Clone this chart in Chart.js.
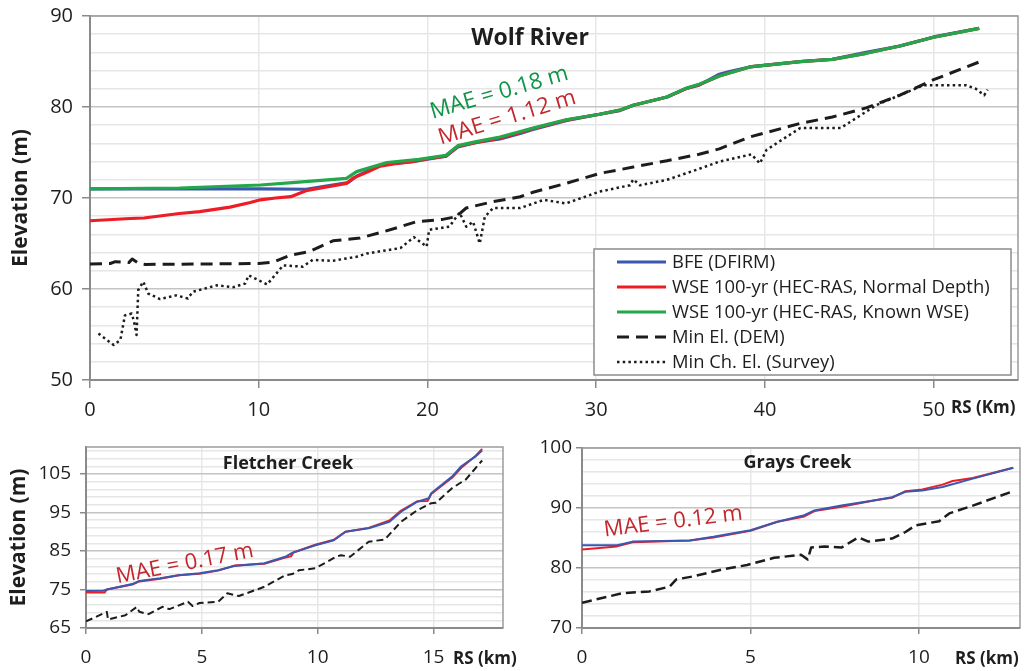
<!DOCTYPE html>
<html><head><meta charset="utf-8">
<script src="https://cdn.jsdelivr.net/npm/chart.js@4.4.1/dist/chart.umd.min.js"></script>
<style>
html,body{margin:0;padding:0;background:#fff;width:1026px;height:671px;overflow:hidden;}
canvas{position:absolute;}
#c1{left:0;top:0;} #c2{left:0;top:440px;} #c3{left:520px;top:420px;}
</style></head><body>
<canvas id="c1" width="1026" height="440"></canvas>
<canvas id="c2" width="540" height="231"></canvas>
<canvas id="c3" width="506" height="251"></canvas>
<script>
// ---------- Wolf River ----------
const wolfBfeKm = [0, 5, 10, 12.8, 14.0, 15.3, 15.8, 16.5, 17.2, 18.0, 19.1, 20.1, 21.1, 21.8, 22.9, 24.3, 25.5, 26.2, 28.2, 30.2, 31.4, 32.2, 34.2, 35.3, 36.1, 37.3, 37.9, 39.1, 42.1, 44.0, 46.0, 48.0, 50.0, 52.7];
const wolfBfeEl = [71.0, 71.0, 71.0, 70.96, 71.3, 71.7, 72.4, 73.0, 73.6, 73.8, 74.0, 74.3, 74.6, 75.6, 76.1, 76.5, 77.1, 77.5, 78.5, 79.2, 79.6, 80.2, 81.1, 82.0, 82.4, 83.6, 83.9, 84.4, 85.0, 85.25, 86.0, 86.7, 87.7, 88.65];
const wolfNdKm = [0, 2.4, 3.2, 5.3, 6.5, 8.3, 9.5, 10.1, 11.0, 11.9, 12.8, 15.2, 15.6, 16.5, 17.2, 18.0, 19.1, 20.1, 21.1, 21.8, 22.9, 24.3, 25.5, 26.2, 28.2, 30.2, 31.4, 32.2, 34.2, 35.3, 36.1, 37.3, 39.1, 42.1, 44.0, 46.0, 48.0, 50.0, 52.7];
const wolfNdEl = [67.5, 67.75, 67.8, 68.3, 68.5, 69.0, 69.5, 69.8, 70.0, 70.15, 70.8, 71.6, 72.2, 72.9, 73.5, 73.75, 74.0, 74.35, 74.6, 75.7, 76.1, 76.6, 77.2, 77.6, 78.55, 79.2, 79.65, 80.2, 81.1, 82.0, 82.45, 83.4, 84.4, 84.98, 85.24, 85.9, 86.7, 87.66, 88.64];
const wolfKwKm = [0, 5.3, 10.1, 12.0, 15.2, 15.8, 17.6, 19.5, 20.3, 21.1, 21.8, 22.9, 24.3, 25.5, 26.2, 28.2, 30.2, 31.4, 32.2, 34.2, 35.3, 36.1, 37.3, 39.1, 42.1, 44.0, 46.0, 48.0, 50.0, 52.7];
const wolfKwEl = [71.0, 71.1, 71.43, 71.7, 72.16, 72.9, 73.9, 74.25, 74.47, 74.7, 75.75, 76.2, 76.7, 77.3, 77.65, 78.6, 79.2, 79.67, 80.2, 81.1, 82.05, 82.5, 83.4, 84.4, 84.98, 85.24, 85.9, 86.7, 87.66, 88.64];
const wolfDemKm = [0, 1.2, 1.5, 2.3, 2.5, 2.9, 3.3, 10.0, 10.85, 11.85, 13.0, 14.4, 16.0, 17.4, 18.4, 19.35, 20.9, 21.7, 22.3, 23.9, 25.5, 26.2, 28.2, 30.2, 32.2, 34.2, 36.1, 37.3, 39.1, 42.1, 44.0, 46.0, 48.0, 50.0, 52.7];
const wolfDemEl = [62.75, 62.8, 63.0, 62.9, 63.3, 62.8, 62.7, 62.8, 62.95, 63.7, 64.1, 65.3, 65.6, 66.3, 66.85, 67.4, 67.65, 67.95, 68.9, 69.6, 70.14, 70.6, 71.6, 72.7, 73.4, 74.1, 74.8, 75.4, 76.7, 78.2, 78.9, 79.9, 81.3, 83.0, 84.95];
const wolfSurvKm = [0.5, 1.0, 1.4, 1.8, 2.07, 2.47, 2.6, 2.76, 2.86, 3.16, 3.45, 4.15, 5.1, 5.8, 6.1, 7.5, 8.5, 9.2, 9.4, 10.5, 11.45, 12.6, 13.2, 14.4, 15.8, 16.4, 18.4, 19.2, 19.95, 20.1, 21.3, 21.9, 22.3, 22.7, 23.1, 23.4, 23.9, 25.5, 26.9, 28.2, 30.2, 32.0, 32.2, 32.6, 34.2, 36.1, 37.3, 39.2, 39.7, 40.1, 42.1, 44.5, 46.6, 48.0, 49.4, 51.9, 52.5, 53.0, 53.2];
const wolfSurvEl = [55.1, 54.4, 53.85, 54.4, 57.1, 57.3, 56.5, 54.95, 59.9, 60.8, 59.5, 58.9, 59.3, 58.96, 59.7, 60.4, 60.2, 60.6, 61.5, 60.5, 62.6, 62.45, 63.2, 63.1, 63.55, 63.9, 64.5, 65.7, 64.65, 66.5, 66.85, 68.4, 66.85, 67.4, 65.0, 67.95, 68.9, 68.9, 69.8, 69.4, 70.7, 71.4, 72.05, 71.4, 72.0, 73.2, 74.0, 74.8, 73.8, 75.3, 77.7, 77.7, 80.2, 81.3, 82.4, 82.4, 82.0, 81.3, 81.9];
const wolfXLabels = [0, 10, 20, 30, 40, 50];
const wolfYLabels = [50, 60, 70, 80, 90];

// ---------- Fletcher Creek ----------
const fletBfeKm = [0, 0.75, 0.9, 2.0, 2.3, 3.2, 4.0, 4.9, 5.7, 6.4, 7.7, 8.6, 8.9, 9.9, 10.7, 11.0, 11.2, 12.2, 13.1, 13.6, 14.3, 14.8, 14.9, 15.8, 16.2, 16.8, 17.1];
const fletBfeEl = [74.6, 74.7, 75.0, 76.4, 77.2, 77.9, 78.7, 79.2, 80.0, 81.1, 81.8, 83.5, 84.5, 86.5, 87.8, 89.1, 90.0, 90.9, 92.6, 95.2, 97.8, 98.7, 100.0, 104.3, 107.0, 109.5, 111.1];
const fletWseKm = [0, 0.8, 0.9, 2.0, 2.3, 3.2, 4.0, 4.9, 5.7, 6.4, 7.7, 8.6, 8.85, 8.95, 9.9, 10.7, 11.0, 11.2, 12.2, 13.1, 13.6, 14.3, 14.75, 14.9, 15.8, 16.2, 16.8, 17.1];
const fletWseEl = [74.2, 74.2, 75.0, 76.3, 77.1, 77.8, 78.7, 79.1, 79.9, 81.2, 81.7, 83.3, 83.6, 84.6, 86.6, 87.9, 89.2, 90.0, 91.0, 92.9, 95.5, 97.9, 98.0, 99.8, 104.0, 106.6, 109.6, 111.5];
const fletDemKm = [0, 0.9, 0.95, 1.7, 2.2, 2.3, 2.7, 3.3, 3.6, 4.4, 4.6, 4.9, 5.7, 6.1, 6.6, 7.7, 8.6, 8.9, 9.2, 9.9, 10.8, 11.0, 11.4, 12.2, 12.9, 13.6, 14.3, 14.9, 15.1, 15.8, 16.4, 17.1];
const fletDemEl = [66.7, 69.2, 67.2, 68.3, 70.5, 69.2, 68.6, 70.5, 69.9, 71.8, 70.7, 71.5, 71.8, 74.0, 73.3, 75.7, 78.7, 79.0, 80.0, 80.5, 83.5, 83.9, 83.5, 87.4, 88.0, 92.6, 95.6, 97.4, 97.5, 101.3, 103.6, 108.5];
const fletXLabels = [0, 5, 10, 15];
const fletYLabels = [65, 75, 85, 95, 105];

// ---------- Grays Creek ----------
const grayBfeKm = [0, 1.04, 1.5, 3.2, 3.9, 5.0, 5.8, 6.6, 6.9, 7.7, 8.7, 9.2, 9.6, 10.1, 10.7, 11.6, 12.8];
const grayBfeEl = [83.8, 83.8, 84.4, 84.6, 85.2, 86.3, 87.7, 88.8, 89.6, 90.4, 91.3, 91.8, 92.7, 92.9, 93.5, 94.9, 96.7];
const grayWseKm = [0, 1.04, 1.5, 3.2, 3.9, 5.0, 5.8, 6.6, 6.9, 7.7, 8.7, 9.2, 9.6, 10.1, 10.7, 11.0, 11.6, 12.8];
const grayWseEl = [83.1, 83.6, 84.3, 84.6, 85.1, 86.2, 87.7, 88.6, 89.5, 90.2, 91.3, 91.7, 92.8, 93.1, 93.9, 94.5, 95.0, 96.7];
const grayDemKm = [0, 1.2, 2.0, 2.6, 2.8, 3.3, 4.2, 4.9, 5.7, 6.5, 6.7, 6.8, 7.2, 7.7, 8.2, 8.5, 9.2, 9.6, 9.9, 10.6, 10.9, 11.6, 12.8];
const grayDemEl = [74.2, 75.8, 76.1, 76.9, 78.1, 78.6, 79.8, 80.5, 81.7, 82.2, 81.4, 83.4, 83.6, 83.4, 85.1, 84.4, 84.9, 86.0, 87.1, 87.8, 89.1, 90.4, 92.8];
const grayXLabels = [0, 5, 10];
const grayYLabels = [70, 80, 90, 100];

// ---------- helpers ----------
const FONT = '"Open Sans", "Noto Sans", sans-serif';
const BLUE = '#3a58ae', RED = '#ee1c25', GREEN = '#22a84a', BLACK = '#1c1c1c';
const TXT = '#1e1e1e';
function pts(xs, ys) { return xs.map((x, i) => ({x: x, y: ys[i]})); }
function steps(a, b, s) { const r = []; for (let v = a; v <= b + 1e-9; v += s) r.push(Math.round(v * 1000) / 1000); return r; }
function ds(label, data, color, width, dash, order) {
  return {label, data, borderColor: color, backgroundColor: color, borderWidth: width, borderDash: dash,
    order, pointRadius: 0, fill: false, tension: 0, borderCapStyle: 'butt', borderJoinStyle: 'round'};
}
function xScale(min, max, labels, height, fontSize, tickLen, pad) {
  return {type: 'linear', min, max,
    afterBuildTicks: s => { s.ticks = labels.map(v => ({value: v})); },
    ticks: {autoSkip: false, maxRotation: 0, minRotation: 0, font: {family: FONT, size: fontSize}, color: TXT, padding: pad, callback: v => String(v)},
    grid: {color: '#e8e8e8', lineWidth: 1.5, tickColor: '#8a8a8a', tickLength: tickLen, tickWidth: 1.5},
    border: {color: '#8a8a8a', width: 2},
    afterFit: s => { s.height = height; s.paddingLeft = 0; s.paddingRight = 0; }
  };
}
function yScale(min, max, labels, minorStep, width, fontSize, tickLen, pad, titlePad, showTitle) {
  const isMajor = v => labels.indexOf(v) >= 0;
  const minor = steps(min, max, minorStep);
  return {type: 'linear', min, max,
    afterBuildTicks: s => { s.ticks = minor.map(v => ({value: v})); },
    ticks: {autoSkip: false, font: {family: FONT, size: fontSize}, color: TXT, padding: pad, callback: v => isMajor(v) ? String(v) : ''},
    grid: {color: c => (c.tick && isMajor(c.tick.value)) ? '#c4c4c4' : '#e6e6e6', lineWidth: 1.5,
      tickColor: c => (c.tick && isMajor(c.tick.value)) ? '#8a8a8a' : 'rgba(0,0,0,0)', tickLength: tickLen, tickWidth: 1.5},
    border: {color: '#8a8a8a', width: 2},
    title: {display: showTitle, text: 'Elevation (m)', font: {family: FONT, size: 21, weight: 'bold'}, color: TXT, padding: {top: titlePad, bottom: 0}},
    afterFit: s => { s.width = width; s.paddingTop = 0; s.paddingBottom = 0; }
  };
}
const overlay = {
  id: 'overlay',
  afterDatasetsDraw(chart, args, opts) {
    const ctx = chart.ctx, a = chart.chartArea;
    ctx.save();
    ctx.strokeStyle = '#9c9c9c'; ctx.lineWidth = 1.5;
    ctx.beginPath(); ctx.moveTo(a.left, a.top); ctx.lineTo(a.right, a.top); ctx.lineTo(a.right, a.bottom); ctx.stroke();
    (opts.texts || []).forEach(t => {
      ctx.save();
      ctx.translate(t.x, t.y);
      ctx.rotate((t.angle || 0) * Math.PI / 180);
      ctx.font = (t.bold ? 'bold ' : '') + t.size + 'px ' + FONT;
      ctx.fillStyle = t.color || TXT;
      ctx.textAlign = t.align || 'center';
      ctx.textBaseline = t.baseline || 'alphabetic';
      ctx.fillText(t.text, 0, 0);
      ctx.restore();
    });
    const L = opts.legend;
    if (L) {
      ctx.fillStyle = '#fff'; ctx.fillRect(L.x, L.y, L.w, L.h);
      ctx.strokeStyle = '#8c8c8c'; ctx.lineWidth = 1.5; ctx.strokeRect(L.x, L.y, L.w, L.h);
      chart.data.datasets.forEach((d, i) => {
        const yy = L.rowY + i * L.rowH;
        ctx.save();
        ctx.strokeStyle = d.borderColor; ctx.lineWidth = d.borderWidth; ctx.setLineDash(d.borderDash || []);
        ctx.beginPath(); ctx.moveTo(L.lineX0, yy); ctx.lineTo(L.lineX1, yy); ctx.stroke();
        ctx.restore();
        ctx.font = L.size + 'px ' + FONT; ctx.fillStyle = TXT; ctx.textAlign = 'left'; ctx.textBaseline = 'middle';
        ctx.fillText(d.label, L.textX, yy + 1);
      });
    }
    ctx.restore();
  }
};
const base = {responsive: false, animation: false, devicePixelRatio: 1, events: []};

// ---------- Chart 1: Wolf River ----------
new Chart(document.getElementById('c1'), {
  type: 'line',
  data: {datasets: [
    ds('BFE (DFIRM)', pts(wolfBfeKm, wolfBfeEl), BLUE, 3.2, [], 3),
    ds('WSE 100-yr (HEC-RAS, Normal Depth)', pts(wolfNdKm, wolfNdEl), RED, 3.2, [], 2),
    ds('WSE 100-yr (HEC-RAS, Known WSE)', pts(wolfKwKm, wolfKwEl), GREEN, 3.2, [], 1),
    ds('Min El. (DEM)', pts(wolfDemKm, wolfDemEl), BLACK, 3, [12, 7], 4),
    ds('Min Ch. El. (Survey)', pts(wolfSurvKm, wolfSurvEl), BLACK, 2.5, [2.5, 3.2], 5)
  ]},
  options: Object.assign({}, base, {
    layout: {padding: {left: 0, top: 16, right: 8, bottom: 20}},
    plugins: {legend: {display: false}, tooltip: {enabled: false},
      overlay: {
        texts: [
          {text: 'Wolf River', x: 530, y: 38, size: 23, bold: true, baseline: 'middle'},
          {text: 'MAE = 0.18 m', x: 501, y: 99, size: 22.5, angle: -16, color: '#109447'},
          {text: 'MAE = 1.12 m', x: 509, y: 124, size: 22.5, angle: -17, color: '#c3272d'},
          {text: 'RS (Km)', x: 951, y: 408, size: 17, bold: true, align: 'left', baseline: 'middle'}
        ],
        legend: {x: 594, y: 249, w: 417, h: 126, rowY: 262, rowH: 25, lineX0: 617, lineX1: 666, textX: 672, size: 18.4}
      }},
    scales: {
      x: xScale(0, 55, wolfXLabels, 40, 20, 8, 10),
      y: yScale(50, 90, wolfYLabels, 2, 90, 20, 8, 9, 8, true)
    }
  }),
  plugins: [overlay]
});

// ---------- Chart 2: Fletcher Creek ----------
new Chart(document.getElementById('c2'), {
  type: 'line',
  data: {datasets: [
    ds('BFE (DFIRM)', pts(fletBfeKm, fletBfeEl), BLUE, 2, [], 1),
    ds('WSE 100-yr (HEC-RAS)', pts(fletWseKm, fletWseEl), RED, 2, [], 2),
    ds('Min El. (DEM)', pts(fletDemKm, fletDemEl), BLACK, 2, [7, 4], 3)
  ]},
  options: Object.assign({}, base, {
    layout: {padding: {left: 0, top: 7, right: 37, bottom: 8}},
    plugins: {legend: {display: false}, tooltip: {enabled: false},
      overlay: {texts: [
        {text: 'Fletcher Creek', x: 288, y: 24, size: 18, bold: true, baseline: 'middle'},
        {text: 'MAE = 0.17 m', x: 186, y: 130, size: 22, angle: -11, color: '#c3272d'},
        {text: 'RS (km)', x: 453, y: 219, size: 17, bold: true, align: 'left', baseline: 'middle'}
      ]}},
    scales: {
      x: xScale(0, 18, fletXLabels, 35, 19, 6, 12),
      y: yScale(65, 112, fletYLabels, 2, 86, 19, 6, 9, 6, true)
    }
  }),
  plugins: [overlay]
});

// ---------- Chart 3: Grays Creek ----------
new Chart(document.getElementById('c3'), {
  type: 'line',
  data: {datasets: [
    ds('BFE (DFIRM)', pts(grayBfeKm, grayBfeEl), BLUE, 2, [], 1),
    ds('WSE 100-yr (HEC-RAS)', pts(grayWseKm, grayWseEl), RED, 2, [], 2),
    ds('Min El. (DEM)', pts(grayDemKm, grayDemEl), BLACK, 2.5, [10, 5], 3)
  ]},
  options: Object.assign({}, base, {
    layout: {padding: {left: 0, top: 28, right: 6, bottom: 8}},
    plugins: {legend: {display: false}, tooltip: {enabled: false},
      overlay: {texts: [
        {text: 'Grays Creek', x: 277.5, y: 43, size: 18, bold: true, baseline: 'middle'},
        {text: 'MAE = 0.12 m', x: 154, y: 108, size: 22, angle: -7, color: '#c3272d'},
        {text: 'RS (km)', x: 435, y: 239, size: 17, bold: true, align: 'left', baseline: 'middle'}
      ]}},
    scales: {
      x: xScale(0, 13, grayXLabels, 35, 19, 6, 12),
      y: yScale(70, 100, grayYLabels, 2, 62, 19, 6, 4, 0, false)
    }
  }),
  plugins: [overlay]
});
</script>
</body></html>
